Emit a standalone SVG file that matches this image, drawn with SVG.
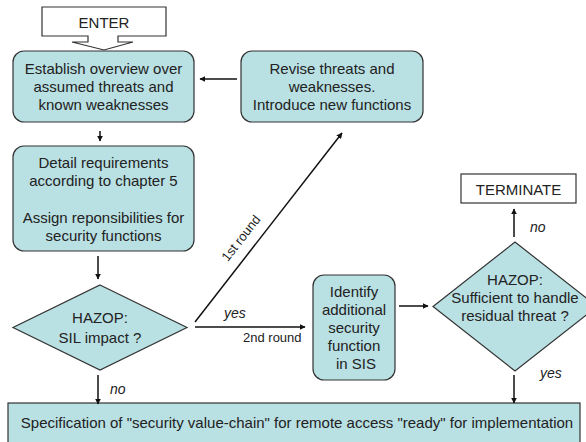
<svg xmlns="http://www.w3.org/2000/svg" width="586" height="442" viewBox="0 0 586 442">
<defs>
<style>
.box{fill:#b9e0e3;stroke:#333;stroke-width:1.2}
.plain{fill:#fff;stroke:#333;stroke-width:1.2}
.t{font-family:"Liberation Sans",Arial,sans-serif;font-size:15px;fill:#222;text-anchor:middle}
.lbl{font-family:"Liberation Sans",Arial,sans-serif;font-size:14px;font-style:italic;fill:#222}
.sm{font-family:"Liberation Sans",Arial,sans-serif;font-size:13px;fill:#222}
.c{stroke:#111;stroke-width:1.5;fill:none;marker-end:url(#ah)}
</style>
<marker id="ah" viewBox="0 0 10 10" refX="9" refY="5" markerWidth="4" markerHeight="4" orient="auto" markerUnits="strokeWidth">
<path d="M0,0 L10,5 L0,10 z" fill="#111"/>
</marker>
</defs>
<rect width="586" height="442" fill="#fff"/>

<g id="enter">
<path class="plain" d="M88,36 L42,36 L42,7 L166,7 L166,36 L118,36 L118,42 L133,42 L104,50 L72,42 L88,42 Z"/>
<text class="t" x="104" y="28">ENTER</text>
</g>

<g id="establish">
<rect class="box" x="13" y="51" width="181" height="71" rx="11"/>
<text class="t" x="103.5" y="74">Establish overview over</text>
<text class="t" x="103.5" y="92">assumed threats and</text>
<text class="t" x="103.5" y="110">known weaknesses</text>
</g>

<g id="revise">
<rect class="box" x="241" y="51" width="182" height="71" rx="11"/>
<text class="t" x="332" y="74">Revise threats and</text>
<text class="t" x="332" y="92">weaknesses.</text>
<text class="t" x="332" y="110">Introduce new functions</text>
</g>

<g id="detail">
<rect class="box" x="13" y="146" width="181" height="105" rx="11"/>
<text class="t" x="103.5" y="168">Detail requirements</text>
<text class="t" x="103.5" y="186">according to chapter 5</text>
<text class="t" x="103.5" y="223">Assign reponsibilities for</text>
<text class="t" x="103.5" y="241">security functions</text>
</g>

<g id="hazop1">
<path class="box" d="M100,285 L187,327.5 L100,370 L13,327.5 Z"/>
<text class="t" x="100" y="323">HAZOP:</text>
<text class="t" x="100" y="343">SIL impact ?</text>
</g>

<g id="identify">
<rect class="box" x="313" y="275" width="82" height="105" rx="11"/>
<text class="t" x="354" y="297">Identify</text>
<text class="t" x="354" y="315">additional</text>
<text class="t" x="354" y="333">security</text>
<text class="t" x="354" y="351">function</text>
<text class="t" x="356" y="369">in SIS</text>
</g>

<g id="hazop2">
<path class="box" d="M515,242 L597,306.5 L515,371 L433,306.5 Z"/>
<text class="t" x="515" y="285">HAZOP:</text>
<text class="t" x="515" y="303">Sufficient to handle</text>
<text class="t" x="515" y="321">residual threat ?</text>
</g>

<g id="terminate">
<rect class="plain" x="461" y="174" width="115" height="29"/>
<text class="t" x="518.5" y="195">TERMINATE</text>
</g>

<g id="spec">
<rect class="box" x="8" y="403" width="572" height="50"/>
<text class="t" x="297" y="428">Specification of "security value-chain" for remote access "ready" for implementation</text>
</g>

<g id="connectors">
<line class="c" x1="237" y1="79" x2="200" y2="79"/>
<line class="c" x1="100" y1="131" x2="100" y2="141"/>
<line class="c" x1="98" y1="256" x2="98" y2="279"/>
<line class="c" x1="195" y1="322" x2="342" y2="133"/>
<line class="c" x1="195" y1="327" x2="305" y2="327"/>
<line class="c" x1="399" y1="306" x2="428" y2="306"/>
<line class="c" x1="514" y1="237" x2="514" y2="209"/>
<line class="c" x1="514" y1="375" x2="514" y2="403"/>
<line class="c" x1="98" y1="375" x2="98" y2="404"/>
<text class="lbl" x="224" y="318">yes</text>
<text class="sm" x="243" y="342">2nd round</text>
<text class="sm" transform="translate(244.5,240.8) rotate(-52)" text-anchor="middle">1st round</text>
<text class="lbl" x="110" y="394">no</text>
<text class="lbl" x="530" y="232">no</text>
<text class="lbl" x="540" y="378">yes</text>
</g>
</svg>
